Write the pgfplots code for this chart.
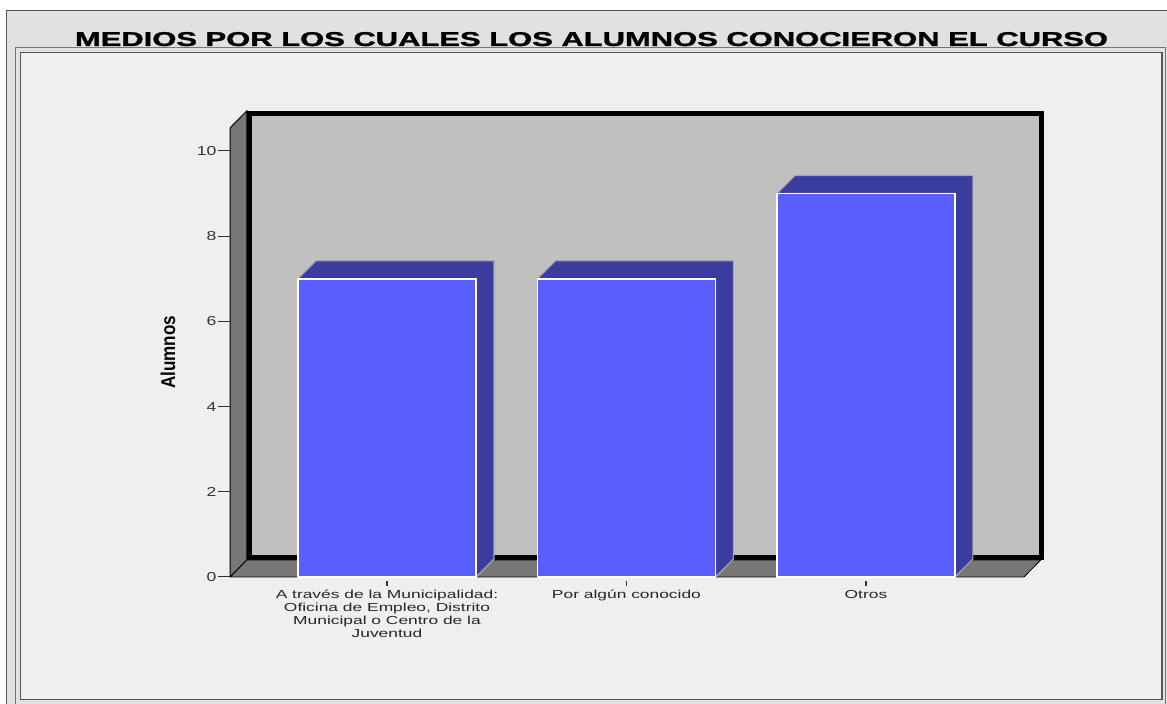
\documentclass[border=0pt]{standalone}
\usepackage{pgfplots}
\pgfplotsset{compat=1.18}
\usepackage{fontspec}
\setmainfont{Liberation Sans}
\newfontfamily\widefont{Liberation Sans}[FakeStretch=1.5]
\newfontfamily\numfont{Liberation Sans}[FakeStretch=1.35]
\definecolor{outerbg}{HTML}{E1E1E1}
\definecolor{innerbg}{HTML}{EFEFEF}
\definecolor{frame}{HTML}{555555}
\definecolor{wall}{HTML}{C0C0C0}
\definecolor{dkgray}{HTML}{777777}
\definecolor{barfront}{HTML}{5B5EFF}
\definecolor{barside}{HTML}{3A3C9E}
\definecolor{baredge}{HTML}{A6A6A6}
\definecolor{ticktext}{HTML}{333333}
\begin{document}
\begin{tikzpicture}
\useasboundingbox (0,0) rectangle (583.5pt,352pt);
\clip (0,0) rectangle (583.5pt,352pt);
\fill[white] (0,0) rectangle (583.5pt,352pt);
\begin{scope}[x=0.5pt,y=-0.5pt,shift={(0,352pt)}]
  \filldraw[fill=outerbg, draw=frame, line width=0.8pt] (6.5,10.5) rectangle (1200,760);
  \filldraw[fill=outerbg, draw=frame!80, line width=0.7pt] (15.5,47.5) rectangle (1165.5,730);
  \filldraw[fill=innerbg, draw=frame, line width=0.8pt] (20.5,52.5) rectangle (1162,699.5);
  \node[anchor=base, inner sep=0pt] at (591.5,46)
    {\resizebox{516.5pt}{\height}{\fontsize{10}{12}\selectfont\bfseries\addfontfeature{FakeBold=1.2}MEDIOS POR LOS CUALES LOS ALUMNOS CONOCIERON EL CURSO}};
\end{scope}
\begin{axis}[
  at={(115pt,63.5pt)}, anchor=south west,
  scale only axis, width=397pt, height=224.5pt,
  xmin=-0.6555, xmax=2.66, ymin=0, ymax=10.54,
  clip=false,
  axis line style={draw=none},
  tick pos=left,
  tick align=outside,
  major tick length=6pt,
  ytick={0,2,4,6,8,10},
  xtick={0,1,2},
  xticklabels={{A través de la Municipalidad:\\Oficina de Empleo, Distrito\\Municipal o Centro de la\\Juventud},{Por algún conocido},{Otros}},
  x tick style={draw=black!80, line width=0.6pt, dash pattern=on 0pt off 1.5pt on 2.5pt off 20pt},
  y tick style={draw=ticktext, line width=0.5pt},
  /pgf/number format/assume math mode=true,
  yticklabel style={font=\numfont\fontsize{6.5}{8}\selectfont, text=ticktext, inner sep=0.6pt},
  xticklabel style={font=\widefont\fontsize{5.8}{6.5}\selectfont, text=black!85, align=center, anchor=north, inner sep=0.5pt},
  ylabel={\resizebox{36.5pt}{\height}{\fontsize{10}{12}\selectfont\bfseries Alumnos}},
  ylabel style={at={(axis description cs:0,0.5)}, yshift=31pt, anchor=center},
]
% back wall: black border and grey face
\addplot[fill=black, draw=none] coordinates {(-0.5855,0.40) (2.745,0.40) (2.745,10.94) (-0.5855,10.94)};
\addplot[fill=wall, draw=none] coordinates {(-0.5645,0.517) (2.724,0.517) (2.724,10.823) (-0.5645,10.823)};
% floor
\addplot[fill=dkgray, draw=black, line width=0.4pt] coordinates {(-0.6555,0) (2.66,0) (2.73,0.40) (-0.5855,0.40) (-0.6555,0)};
% left side wall
\addplot[fill=dkgray, draw=black, line width=0.5pt] coordinates {(-0.6555,0) (-0.5855,0.40) (-0.5855,10.94) (-0.6555,10.54) (-0.6555,0)};
% bar depth faces (top and right side)
\addplot[fill=barside, draw=baredge, line width=0.6pt] coordinates {(-0.3715,7) (-0.2965,7.4225) (0.4465,7.4225) (0.4465,0.4225) (0.3715,0) (0.3715,7) (-0.3715,7)};
\addplot[fill=barside, draw=baredge, line width=0.6pt] coordinates {(0.6285,7) (0.7035,7.4225) (1.4465,7.4225) (1.4465,0.4225) (1.3715,0) (1.3715,7) (0.6285,7)};
\addplot[fill=barside, draw=baredge, line width=0.6pt] coordinates {(1.6285,9) (1.7035,9.4225) (2.4465,9.4225) (2.4465,0.4225) (2.3715,0) (2.3715,9) (1.6285,9)};
% bar fronts
\addplot[ybar, bar width=0.743, bar shift=0, fill=barfront, draw=white, line width=0.9pt] coordinates {(0,7) (1,7) (2,9)};
\end{axis}
\end{tikzpicture}
\end{document}
